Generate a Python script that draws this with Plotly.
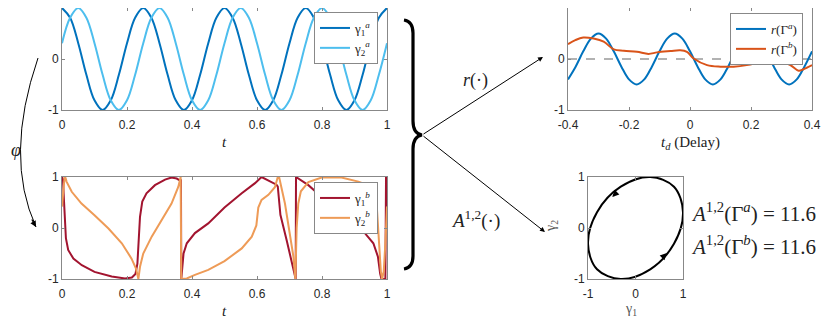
import plotly.graph_objects as go

W, H = 830, 325
OFF = 8  # page body margin in the browser
FW, FH = W - OFF, H - OFF

# ---- data ----
t_a = [0, 0.025, 0.05, 0.075, 0.1, 0.125, 0.15, 0.175, 0.2, 0.225,
       0.25, 0.275, 0.3, 0.325, 0.35, 0.375, 0.4, 0.425, 0.45, 0.475,
       0.5, 0.525, 0.55, 0.575, 0.6, 0.625, 0.65, 0.675, 0.7, 0.725,
       0.75, 0.775, 0.8, 0.825, 0.85, 0.875, 0.9, 0.925, 0.95, 0.975, 1.0]
g1_a = [1, 0.81, 0.31, -0.31, -0.81, -1, -0.81, -0.31, 0.31, 0.81,
        1, 0.81, 0.31, -0.31, -0.81, -1, -0.81, -0.31, 0.31, 0.81,
        1, 0.81, 0.31, -0.31, -0.81, -1, -0.81, -0.31, 0.31, 0.81,
        1, 0.81, 0.31, -0.31, -0.81, -1, -0.81, -0.31, 0.31, 0.81, 1]
g2_a = [0.31, 0.81, 1, 0.81, 0.31, -0.31, -0.81, -1, -0.81, -0.31,
        0.31, 0.81, 1, 0.81, 0.31, -0.31, -0.81, -1, -0.81, -0.31,
        0.31, 0.81, 1, 0.81, 0.31, -0.31, -0.81, -1, -0.81, -0.31,
        0.31, 0.81, 1, 0.81, 0.31, -0.31, -0.81, -1, -0.81, -0.31, 0.31]

t_1b = [0, 0.003, 0.006, 0.009, 0.012, 0.019, 0.035, 0.061, 0.10, 0.153,
        0.194, 0.215, 0.226, 0.232, 0.236, 0.24, 0.247, 0.26, 0.286, 0.317,
        0.337, 0.353, 0.363, 0.366, 0.367, 0.370, 0.374, 0.384, 0.409, 0.45,
        0.50, 0.553, 0.594, 0.614, 0.635, 0.66, 0.664, 0.672, 0.692, 0.709,
        0.719, 0.720, 0.727, 0.758, 0.799, 0.84, 0.88, 0.90, 0.932, 0.958,
        0.972, 0.979, 0.983, 0.995, 0.997, 1.0]
g1_b = [1, 0.95, 0.55, 0.05, -0.2, -0.43, -0.6, -0.73, -0.86, -0.95,
        -0.99, -0.97, -0.9, -0.7, -0.2, 0.22, 0.52, 0.68, 0.84, 0.95,
        0.99, 0.97, 0.93, 0.95, -1, -0.72, -0.5, -0.3, -0.1, 0.09,
        0.40, 0.68, 0.88, 1.0, 0.93, 0.85, 0.81, 0.26, -0.26, -0.69,
        -1, 1, 0.97, 0.84, 0.61, 0.42, 0.22, 0.06, -0.1, -0.3,
        -0.56, -0.9, -1, -1, 1, 0.42]

t_2b = [0, 0.004, 0.008, 0.011, 0.014, 0.03, 0.06, 0.10, 0.143, 0.184,
        0.214, 0.228, 0.235, 0.24, 0.25, 0.276, 0.307, 0.337, 0.358, 0.365,
        0.367, 0.384, 0.409, 0.45, 0.50, 0.553, 0.584, 0.598, 0.604, 0.614,
        0.635, 0.655, 0.664, 0.668, 0.686, 0.70, 0.712, 0.718, 0.722, 0.727,
        0.735, 0.758, 0.799, 0.86, 0.912, 0.94, 0.958, 0.968, 0.975, 0.981,
        0.985, 0.99, 0.995, 1.0]
g2_b = [0.42, 0.8, 1.0, 0.98, 0.91, 0.71, 0.48, 0.25, -0.01, -0.3,
        -0.6, -0.8, -1.0, -0.76, -0.5, -0.17, 0.16, 0.48, 0.81, 1.0,
        -1.0, -0.99, -0.92, -0.82, -0.65, -0.4, -0.17, 0.05, 0.4, 0.55,
        0.65, 0.8, 1.0, 1.0, 0.48, -0.04, -0.56, -1.0, 0.0, 0.48,
        0.72, 0.9, 0.99, 0.99, 0.91, 0.84, 0.72, 0.48, -0.17, -0.85,
        -1.0, -0.85, -0.3, 0.42]

td_a = [-0.4, -0.375, -0.35, -0.325, -0.3, -0.275, -0.25, -0.225, -0.2, -0.175,
        -0.15, -0.125, -0.1, -0.075, -0.05, -0.025, 0, 0.025, 0.05, 0.075,
        0.1, 0.125, 0.15, 0.175, 0.2, 0.225, 0.25, 0.275, 0.3, 0.325,
        0.35, 0.375, 0.4]
r_a = [-0.40, -0.15, 0.15, 0.40, 0.50, 0.40, 0.15, -0.15, -0.40, -0.50,
       -0.40, -0.15, 0.15, 0.40, 0.50, 0.40, 0.15, -0.15, -0.40, -0.50,
       -0.40, -0.15, 0.15, 0.40, 0.50, 0.40, 0.15, -0.15, -0.40, -0.50,
       -0.40, -0.15, 0.15]

td_b = [-0.4, -0.376, -0.35, -0.316, -0.283, -0.25, -0.217, -0.174, -0.136, -0.108,
        -0.064, -0.032, -0.01, 0.012, 0.056, 0.1, 0.143, 0.186, 0.23, 0.263,
        0.296, 0.329, 0.356, 0.372, 0.4]
r_b = [0.29, 0.37, 0.42, 0.40, 0.34, 0.19, 0.16, 0.14, 0.10, 0.13,
       0.155, 0.17, 0.14, 0.01, -0.12, -0.15, -0.15, -0.12, -0.06, -0.02,
       -0.04, -0.12, -0.23, -0.2, -0.12]

A_a = 11.6
A_b = 11.6

BLUE1, BLUE2 = '#0072BD', '#4DBEEE'
RED, ORANGE = '#A2142F', '#EE9B57'
ORANGE_R = '#D95319'
SANS = 'Liberation Sans, Arial, sans-serif'
SERIF = 'Liberation Serif, DejaVu Serif, serif'


def px(x):
    return (x - OFF) / FW


def py(y):
    return 1 - (y - OFF) / FH


def path(points):
    # points given in page pixels -> paper coords
    s = ''
    for cmd, pts in points:
        s += cmd + ' ' + ' '.join('%.5f,%.5f' % (px(a), py(b)) for a, b in pts) + ' '
    return s


fig = go.Figure()

fig.add_trace(go.Scatter(x=t_a, y=g1_a, mode='lines', line=dict(color=BLUE1, width=2, shape='spline'),
                         name='γ<sub>1</sub><sup><i>a</i></sup>', xaxis='x', yaxis='y', legend='legend'))
fig.add_trace(go.Scatter(x=t_a, y=g2_a, mode='lines', line=dict(color=BLUE2, width=2, shape='spline'),
                         name='γ<sub>2</sub><sup><i>a</i></sup>', xaxis='x', yaxis='y', legend='legend'))

fig.add_trace(go.Scatter(x=t_1b, y=g1_b, mode='lines', line=dict(color=RED, width=2),
                         name='γ<sub>1</sub><sup><i>b</i></sup>', xaxis='x2', yaxis='y2', legend='legend2'))
fig.add_trace(go.Scatter(x=t_2b, y=g2_b, mode='lines', line=dict(color=ORANGE, width=2),
                         name='γ<sub>2</sub><sup><i>b</i></sup>', xaxis='x2', yaxis='y2', legend='legend2'))

fig.add_trace(go.Scatter(x=td_a, y=r_a, mode='lines', line=dict(color=BLUE1, width=2, shape='spline'),
                         name='<i>r</i>(Γ<sup><i>a</i></sup>)', xaxis='x3', yaxis='y3', legend='legend3'))
fig.add_trace(go.Scatter(x=td_b, y=r_b, mode='lines', line=dict(color=ORANGE_R, width=2, shape='spline'),
                         name='<i>r</i>(Γ<sup><i>b</i></sup>)', xaxis='x3', yaxis='y3', legend='legend3'))

fig.add_trace(go.Scatter(x=g1_a[:11], y=g2_a[:11], mode='lines', line=dict(color='black', width=2, shape='spline'),
                         showlegend=False, xaxis='x4', yaxis='y4'))


def ax(domain, rng, vals, text, **kw):
    return dict(domain=domain, range=rng, tickvals=vals, ticktext=text, ticks='inside', ticklen=3,
                tickcolor='#888', showline=True, linecolor='#888', linewidth=1, mirror='ticks',
                showgrid=False, zeroline=False, tickfont=dict(family=SANS, size=12, color='#262626'),
                fixedrange=True, automargin=False, **kw)


tvals = [0, 0.2, 0.4, 0.6, 0.8, 1]
ttext = ['0', '0.2', '0.4', '0.6', '0.8', '1']
yv, yt = [-1, 0, 1], ['-1', '0', '1']

fig.update_layout(
    xaxis=ax([px(62), px(387)], [0, 1], tvals, ttext, ticklabelstandoff=4) | dict(anchor='y'),
    yaxis=ax([py(110), py(8)], [-1, 1], yv, yt) | dict(anchor='x'),
    xaxis2=ax([px(62), px(387)], [0, 1], tvals, ttext, ticklabelstandoff=4) | dict(anchor='y2'),
    yaxis2=ax([py(279), py(177)], [-1, 1], yv, yt) | dict(anchor='x2'),
    xaxis3=ax([px(568), px(812)], [-0.4, 0.4], [-0.4, -0.2, 0, 0.2, 0.4],
              ['-0.4', '-0.2', '0', '0.2', '0.4'], ticklabelstandoff=4) | dict(anchor='y3'),
    yaxis3=ax([py(110), py(8)], [-1, 1], yv, yt) | dict(anchor='x3'),
    xaxis4=ax([px(588), px(683)], [-1, 1], yv, yt, ticklabelstandoff=4) | dict(anchor='y4'),
    yaxis4=ax([py(279), py(177)], [-1, 1], yv, yt) | dict(anchor='x4'),
)

leg = dict(bgcolor='white', bordercolor='#888', borderwidth=1, font=dict(family=SERIF, size=13, color='#222'),
           xanchor='right', yanchor='top', itemwidth=30, tracegroupgap=0)
fig.update_layout(
    legend=leg | dict(x=px(378), y=py(12)),
    legend2=leg | dict(x=px(378), y=py(182)),
    legend3=leg | dict(x=px(803), y=py(13)),
)

# dashed zero line in r(.) panel
fig.add_shape(type='line', xref='x3 domain', yref='y3', x0=0, x1=1, y0=0, y1=0,
              line=dict(color='#999', width=1.3, dash='dash'), layer='below')

# big brace
brace = [('M', [(404, 20)]),
         ('C', [(410, 21), (413, 25), (413, 33)]),
         ('L', [(413, 121)]),
         ('C', [(413, 130), (416, 134), (422, 135)]),
         ('C', [(416, 136), (413, 140), (413, 149)]),
         ('L', [(413, 256)]),
         ('C', [(413, 264), (410, 268), (404, 269)])]
fig.add_shape(type='path', xref='paper', yref='paper', path=path(brace),
              line=dict(color='black', width=3.2))

# phi curve
phi = [('M', [(38, 58)]), ('Q', [(4, 157), (36, 227)])]
fig.add_shape(type='path', xref='paper', yref='paper', path=path(phi),
              line=dict(color='black', width=1))

ann = []


def label(x, y, text, size=14, color='#222', family=SERIF, xanchor='center', **kw):
    ann.append(dict(x=px(x), y=py(y), xref='paper', yref='paper', text=text, showarrow=False,
                    xanchor=xanchor, yanchor='middle',
                    font=dict(family=family, size=size, color=color), **kw))


label(224, 142, '<i>t</i>', 15)
label(224, 311, '<i>t</i>', 15)
label(690, 143, '<i>t<sub>d</sub></i> (Delay)', 15)
label(631, 309, 'γ<sub>1</sub>', 14, color='#555')
label(551, 226, 'γ<sub>2</sub>', 14, color='#555', textangle=-90)
label(689, 212, '<i>A</i><sup>1,2</sup>(Γ<sup><i>a</i></sup>) = %.1f' % A_a, 21, xanchor='left')
label(689, 245, '<i>A</i><sup>1,2</sup>(Γ<sup><i>b</i></sup>) = %.1f' % A_b, 21, xanchor='left')
label(475, 80, '<i>r</i>(·)', 18)
label(475, 219, '<i>A</i><sup>1,2</sup>(·)', 19)
label(9, 150, '<i>φ</i>', 18, xanchor='left')


def arrow(x, y, dx, dy, width=1, size=1.0, xref='paper', yref='paper'):
    ann.append(dict(x=x, y=y, xref=xref, yref=yref, ax=dx, ay=dy, text='', showarrow=True,
                    arrowhead=2, arrowsize=size, arrowwidth=width, arrowcolor='black', standoff=0))


arrow(px(543), py(57), 422 - 543, 135 - 57)
arrow(px(545), py(232), 422 - 545, 135 - 232)
arrow(px(36), py(227), -5, -9, width=1.2)
arrow(-0.49, 0.61, 6, -6, width=1.5, size=0.9, xref='x4', yref='y4')
arrow(0.66, -0.49, -6, 6, width=1.5, size=0.9, xref='x4', yref='y4')

fig.update_layout(annotations=ann, width=FW, height=FH, autosize=False,
                  margin=dict(l=0, r=0, t=0, b=0, autoexpand=False),
                  plot_bgcolor='white', paper_bgcolor='white')

fig.write_html("out.html")
